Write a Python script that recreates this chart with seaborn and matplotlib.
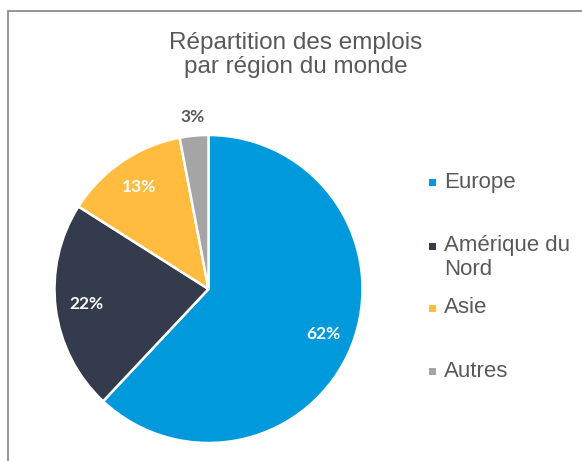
import textwrap
import matplotlib
matplotlib.use("Agg")
import matplotlib.pyplot as plt
import numpy as np
import seaborn as sns
from matplotlib.patches import Rectangle

# data
regions = ["Europe", "Amérique du Nord", "Asie", "Autres"]
parts = [62, 22, 13, 3]
colors = ["#0099DB", "#333B4C", "#FFBC3F", "#A5A5A5"]
title = "Répartition des emplois\npar région du monde"

sns.set_theme(style="white")
plt.rcParams['font.family'] = ['Liberation Sans', 'DejaVu Sans']

W, H = 582, 461
fig = plt.figure(figsize=(W / 100, H / 100), dpi=100)
fig.patch.set_facecolor("white")

# frame of the chart area (only left + top visible in the crop)
fig.patches.append(Rectangle((8 / W, -0.1), 1.2, 1.1 - 11 / H, transform=fig.transFigure,
                             fill=False, edgecolor="#8C8C8C", linewidth=1.3))

cx, cy, r = 208.5, 289, 154
ax = fig.add_axes([(cx - r) / W, (H - cy - r) / H, 2 * r / W, 2 * r / H])
wedges, texts, autotexts = ax.pie(parts, colors=colors, startangle=90, counterclock=False,
                                  autopct='%1.0f%%', pctdistance=0.8,
                                  wedgeprops=dict(edgecolor="white", linewidth=1.8))
ax.set_xlim(-1, 1)
ax.set_ylim(-1, 1)
ax.set_aspect("equal")
ax.axis("off")

for w, t, p in zip(wedges, autotexts, parts):
    t.set_fontfamily("Lato")
    t.set_fontweight("bold")
    t.set_fontsize(12.5)
    t.set_color("white")
    if p < 5:
        # small slice: label outside
        ang = np.deg2rad((w.theta1 + w.theta2) / 2)
        t.set_position((1.12 * np.cos(ang), 1.12 * np.sin(ang)))
        t.set_color("#595959")

fig.text(296 / W, 1 - 55 / H, title, ha="center", va="center", fontsize=17.5,
         color="#595959", linespacing=1.12)

# legend drawn by hand to follow the uneven spacing of the original
leg_y = [182.5, 246, 308, 371.5]
for reg, col, y in zip(regions, colors, leg_y):
    fig.patches.append(Rectangle((429 / W, 1 - (y + 3.5) / H), 7 / W, 7 / H,
                                 transform=fig.transFigure, facecolor=col, edgecolor="none"))
    fig.text(444 / W, 1 - (y - 11) / H, textwrap.fill(reg, 11), ha="left", va="top",
             fontsize=16, color="#595959", linespacing=1.18,
             transform=fig.transFigure)

fig.savefig("out.png", dpi=100)
